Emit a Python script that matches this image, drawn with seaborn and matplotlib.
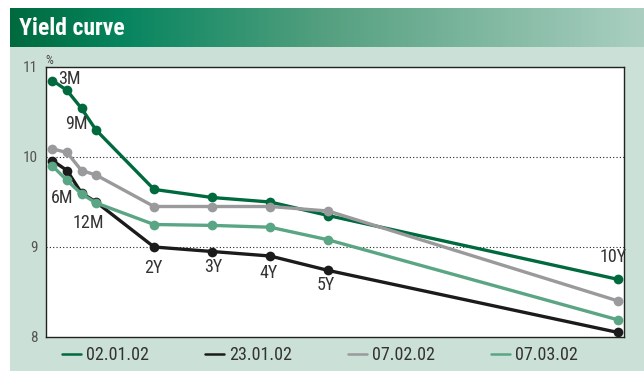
import matplotlib
matplotlib.use("Agg")
import matplotlib.pyplot as plt
from matplotlib import font_manager
from matplotlib.colors import LinearSegmentedColormap
from matplotlib.lines import Line2D
import numpy as np
import pandas as pd
import seaborn as sns

# maturities in years and the labels written next to the points
maturities = [0.25, 0.5, 0.75, 1, 2, 3, 4, 5, 10]
mat_labels = ["3M", "6M", "9M", "12M", "2Y", "3Y", "4Y", "5Y", "10Y"]

dates = ["02.01.02", "23.01.02", "07.02.02", "07.03.02"]
y_020102 = [10.85, 10.74, 10.54, 10.30, 9.64, 9.55, 9.50, 9.35, 8.64]
y_230102 = [9.96, 9.85, 9.60, 9.50, 9.00, 8.95, 8.90, 8.74, 8.05]
y_070202 = [10.09, 10.05, 9.85, 9.80, 9.45, 9.45, 9.45, 9.40, 8.40]
y_070302 = [9.90, 9.74, 9.59, 9.49, 9.25, 9.24, 9.22, 9.08, 8.19]

colors = ["#006a3e", "#1b1b1b", "#9a9a9c", "#5aa684"]

df = pd.DataFrame({
    "maturity": maturities * 4,
    "yield": y_020102 + y_230102 + y_070202 + y_070302,
    "date": sum([[d] * len(maturities) for d in dates], []),
})

sns.set_style("white")

# pick a narrow face if one is installed
fonts = font_manager.fontManager.ttflist
names = {f.name for f in fonts}
narrow = None
for cand in ["Liberation Sans Narrow", "DejaVu Sans Condensed", "Roboto Condensed"]:
    if cand in names:
        narrow = cand
        break
stretch = "normal"
if narrow is None:
    if any(f.name == "DejaVu Sans" and f.stretch == "condensed" for f in fonts):
        narrow, stretch = "DejaVu Sans", "condensed"
    else:
        narrow = "DejaVu Sans"
plt.rcParams["font.family"] = [narrow, "DejaVu Sans"]
plt.rcParams["font.stretch"] = stretch

fig = plt.figure(figsize=(6.44, 3.71), dpi=100)
W, H = 644, 371

# light green panel
panel = fig.add_axes([10 / W, 0, 634 / W, 1 - 47 / H])
panel.set_facecolor("#cbe0d6")
panel.set_xticks([]); panel.set_yticks([])
for s in panel.spines.values():
    s.set_visible(False)

# gradient title band
band = fig.add_axes([10 / W, 1 - 47 / H, 634 / W, 39 / H])
cmap = LinearSegmentedColormap.from_list(
    "band", [(0, "#006a3e"), (0.18, "#07855f"), (0.5, "#55a080"), (1, "#aacfc1")])
band.imshow(np.linspace(0, 1, 256)[None, :], aspect="auto", cmap=cmap)
band.set_axis_off()
band.text(9 / 634, 0.47, "Yield curve", color="white", fontsize=17, fontweight="bold",
          va="center", ha="left", transform=band.transAxes)

# chart
ax = fig.add_axes([46 / W, 1 - 337 / H, 578 / W, 270 / H])
ax.set_facecolor("white")
sns.lineplot(data=df, x="maturity", y="yield", hue="date", palette=colors,
             marker="o", markersize=7, markeredgewidth=0, linewidth=2.4,
             legend=False, ax=ax)
ax.set_xlim(0.138, 10.1)
ax.set_ylim(8, 11)
ax.set_yticks([8, 9, 10, 11])
ax.set_xticks([])
ax.set_xlabel("")
ax.set_ylabel("")
ax.tick_params(axis="y", length=0, labelsize=11, labelcolor="#555555", pad=6)
for s in ax.spines.values():
    s.set_color("#222222")
    s.set_linewidth(1.0)
for v in [9, 10]:
    ax.axhline(v, color="#222222", lw=0.8, ls=(0, (1, 2)), zorder=0)

# maturity labels next to the points
ann = [("3M", 0, y_020102, 17, 2), ("6M", 1, y_070302, -5, -18),
       ("9M", 2, y_020102, -5, -16), ("12M", 3, y_070302, -8, -20),
       ("2Y", 4, y_230102, -1, -21), ("3Y", 5, y_230102, 1, -15),
       ("4Y", 6, y_230102, -2, -17), ("5Y", 7, y_230102, -2, -15),
       ("10Y", 8, y_020102, -5, 22)]
for lab, i, ser, dx, dy in ann:
    ax.annotate(lab, (maturities[i], ser[i]), xytext=(dx, dy),
                textcoords="offset pixels", ha="center", va="center",
                fontsize=13, color="#333333")

fig.text(49 / W, 1 - 60 / H, "%", fontsize=9, color="#444444", ha="center", va="center")

handles = [Line2D([], [], color=c, lw=1.8) for c in colors]
fig.legend(handles, dates, loc="center", ncol=4, mode="expand", frameon=False,
           bbox_to_anchor=(55 / W, 1 - 368 / H, 530 / W, 26 / H), borderaxespad=0,
           handlelength=1.05, handletextpad=0.28, fontsize=13,
           labelcolor="#333333")

fig.savefig("out.png", dpi=100)
